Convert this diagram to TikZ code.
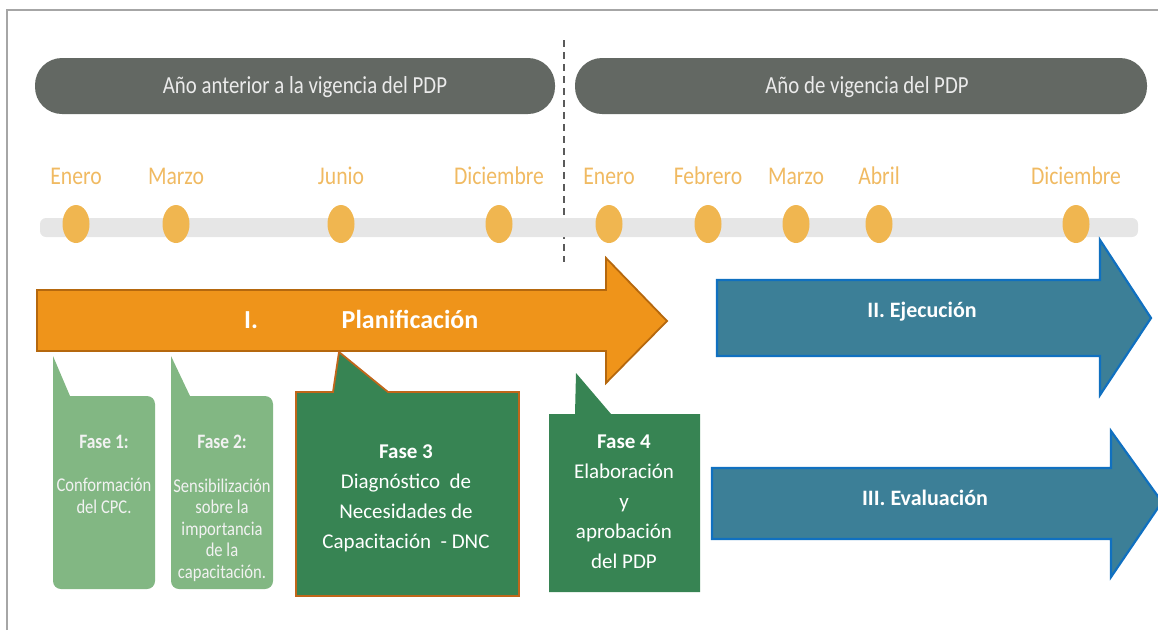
\documentclass[tikz,border=0pt]{standalone}
\usepackage{fontspec}
\setmainfont{Carlito}
\newfontfamily\narrowfont[FakeStretch=0.85]{Carlito}
\usepackage{tikz}
\usetikzlibrary{shapes.geometric,positioning}
\definecolor{bandgray}{HTML}{636863}
\definecolor{monthtext}{HTML}{F0BA62}
\definecolor{dotorange}{HTML}{F0B650}
\definecolor{trackgray}{HTML}{E6E6E6}
\definecolor{planorange}{HTML}{EF941A}
\definecolor{planedge}{HTML}{B5680E}
\definecolor{faselight}{HTML}{82B783}
\definecolor{fasedark}{HTML}{378453}
\definecolor{fasedge}{HTML}{C0661A}
\definecolor{stagefill}{HTML}{3C7F97}
\definecolor{stageedge}{HTML}{1070C0}
\definecolor{framegray}{HTML}{A6A6A6}
\definecolor{splitgray}{HTML}{5A5A5A}

\tikzset{
  band/.style={fill=bandgray, rounded corners=27pt},
  bandtext/.style={font=\narrowfont\fontsize{24.5}{28}\selectfont, text=white!92!black, anchor=base},
  month/.style={font=\narrowfont\fontsize{25.5}{30}\selectfont, text=monthtext, anchor=base},
  mdot/.style={ellipse, fill=dotorange, minimum width=27pt, minimum height=38pt, inner sep=0pt},
  stagetext/.style={font=\bfseries\fontsize{22}{26}\selectfont, text=white, anchor=base},
  lightbody/.style={font=\narrowfont\fontsize{19.5}{21.5}\selectfont, text=white!95!black, align=center, anchor=base, inner sep=0pt},
  lighttitle/.style={font=\narrowfont\bfseries\fontsize{20.5}{24}\selectfont, text=white!95!black, anchor=base, inner sep=0pt},
  darkbody/.style={font=\fontsize{21}{30}\selectfont, text=white, align=center, anchor=base, inner sep=0pt},
  darktitle/.style={font=\bfseries\fontsize{21}{25}\selectfont, text=white, anchor=base, inner sep=0pt}
}

\begin{document}
\begin{tikzpicture}[x=1pt,y=-1pt]
        \useasboundingbox (0,0) rectangle (1158,630);
        \draw[framegray, line width=1.2pt] (7,630) -- (7,10) -- (1158,10);
        \draw[splitgray, line width=1.2pt, dash pattern=on 7pt off 5pt] (564,40) -- (564,262);

        % years
        \fill[band] (35,58) rectangle (555,114);
        \fill[band] (575,58) rectangle (1147,114);
        \node[bandtext] (prev) at (305,93) {Año anterior a la vigencia del PDP};
        \node[bandtext] (curr) at (867,93) {Año de vigencia del PDP};

        % timeline
        \fill[trackgray, rounded corners=6pt] (40,218) rectangle (1138,237);
        \foreach \n/\x/\m in {1/76/Enero, 2/176/Marzo, 3/341/Junio, 4/499/Diciembre,
                              5/609/Enero, 6/708/Febrero, 7/796/Marzo, 8/879/Abril, 9/1076/Diciembre}{
                \node[mdot] (dot\n) at (\x,224) {};
                \node[month] (mes\n) at (\x,184) {\m};
        }

        % stages
        \filldraw[fill=planorange, draw=planedge, line width=1.8pt]
                (37,290) -- (606,290) -- (606,258) -- (667,321) -- (606,383) -- (606,351) -- (37,351) -- cycle;
        \node[stagetext, font=\bfseries\fontsize{26}{30}\selectfont] (plan1) at (251,328) {I.};
        \node[stagetext, font=\bfseries\fontsize{26}{30}\selectfont] (plan2) at (410,328) {Planificación};
        \filldraw[fill=stagefill, draw=stageedge, line width=2.2pt]
                (717,280) -- (1100,280) -- (1100,240) -- (1151,318) -- (1100,395) -- (1100,356) -- (717,356) -- cycle;
        \node[stagetext] (ejec) at (922,317) {II. Ejecución};
        \filldraw[fill=stagefill, draw=stageedge, line width=2.2pt]
                (712,468) -- (1111,468) -- (1111,431) -- (1162,502) -- (1111,577) -- (1111,539) -- (712,539) -- cycle;
        \node[stagetext] (eval) at (925,505) {III. Evaluación};

        % phases (body nodes sit on their last line)
        \fill[faselight] (53,356) -- (70,396) [rounded corners=8pt] -- (155,396) -- (155,589) -- (53,589) [sharp corners] -- cycle;
        \node[lighttitle] (f1) at (104,448) {Fase 1:};
        \node[lightbody] (f1b) at (104,513) {Conformación\\del CPC.};
        \fill[faselight] (171,356) -- (190,396) [rounded corners=8pt] -- (273,396) -- (273,589) -- (171,589) [sharp corners] -- cycle;
        \node[lighttitle] (f2) at (222,448) {Fase 2:};
        \node[lightbody] (f2b) at (222,578) {Sensibilización\\sobre la\\importancia\\de la\\capacitación.};
        \filldraw[fill=fasedark, draw=fasedge, line width=1.8pt]
                (296,392) -- (333,392) -- (339,352) -- (388,392) -- (519,392) -- (519,596) -- (296,596) -- cycle;
        \node[darktitle] (f3) at (406,458) {Fase 3};
        \node[darkbody] (f3b) at (406,548) {Diagnóstico\ \ de\\Necesidades de\\Capacitación\ \ - DNC};
        \fill[fasedark] (549,414) -- (575,414) -- (576,373) -- (611,414) -- (700,414) -- (700,592) -- (549,592) -- cycle;
        \node[darktitle] (f4) at (624,448) {Fase 4};
        \node[darkbody] (f4b) at (624,568) {Elaboración\\y\\aprobación\\del PDP};
    \end{tikzpicture}
\end{document}
